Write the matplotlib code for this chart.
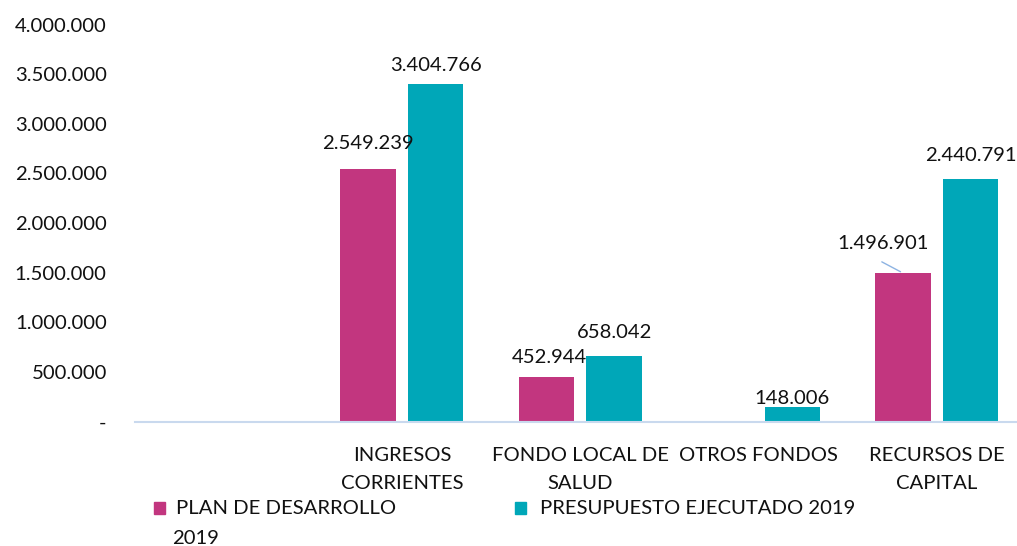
import numpy as np
import matplotlib.pyplot as plt
from matplotlib.patches import Rectangle
from matplotlib.ticker import FuncFormatter

categories = ["", "INGRESOS\nCORRIENTES", "FONDO LOCAL DE\nSALUD", "OTROS FONDOS", "RECURSOS DE\nCAPITAL"]
plan_2019 = [None, 2549239, 452944, None, 1496901]
ejecutado_2019 = [None, 3404766, 658042, 148006, 2440791]
series_names = ["PLAN DE DESARROLLO", "PRESUPUESTO EJECUTADO 2019"]

PINK = '#C2367F'
TEAL = '#00A7B8'
FONT = 'Lato'
FS = 14.6

plt.rcParams['font.family'] = [FONT, 'DejaVu Sans']

def fmt_miles(v, pos=None):
    if v == 0:
        return '-'
    return f'{int(round(v)):,}'.replace(',', '.')

fig = plt.figure(figsize=(10.17, 5.46), dpi=100)
W, H = 1017, 546
ax = fig.add_axes([134.5 / W, (H - 421.7) / H, 891.5 / W, 397.2 / H])

x = np.arange(len(categories))
bw = 0.31
off = 0.19

plan_vals = np.array([np.nan if v is None else v for v in plan_2019], dtype=float)
ejec_vals = np.array([np.nan if v is None else v for v in ejecutado_2019], dtype=float)

ax.bar(x - off, plan_vals, bw, color=PINK, zorder=2)
ax.bar(x + off, ejec_vals, bw, color=TEAL, zorder=2)

# data labels: pixel gap between bar top and label centre, nudged like the original
label_gap = {(0, 1): 25, (1, 1): 18, (0, 2): 19, (1, 2): 24, (1, 3): 9, (0, 4): 30, (1, 4): 24}
label_dx = {(0, 2): 3, (0, 4): -20}
for s, vals in enumerate([plan_vals, ejec_vals]):
    for i, v in enumerate(vals):
        if np.isnan(v):
            continue
        gap = label_gap.get((s, i), 24)
        dx = label_dx.get((s, i), 0)
        xpos = x[i] - off if s == 0 else x[i] + off
        ax.annotate(fmt_miles(v), (xpos, v), xytext=(dx * 0.72, gap * 0.72),
                    textcoords='offset points', ha='center', va='center',
                    fontsize=FS, color='#111111')

# leader line for RECURSOS DE CAPITAL plan label
ax.annotate('', xy=(x[4] - off, plan_vals[4]), xytext=(-17, 9), textcoords='offset points',
            arrowprops=dict(arrowstyle='-', color='#8DB3E2', lw=1))

ax.set_xlim(-0.5, 4.5)
ax.set_ylim(0, 4000000)
ax.set_yticks(np.arange(0, 4000001, 500000))
ax.yaxis.set_major_formatter(FuncFormatter(fmt_miles))
ax.set_xticks(x)
ax.set_xticklabels(categories, linespacing=1.8)
ax.tick_params(axis='both', length=0, labelsize=FS, colors='#111111')
ax.tick_params(axis='y', pad=20)
ax.tick_params(axis='x', pad=18)

for sp in ['top', 'right', 'left']:
    ax.spines[sp].set_visible(False)
ax.spines['bottom'].set_color('#C9D9EE')
ax.spines['bottom'].set_linewidth(1.5)

# legend drawn by hand to keep the wrapped first entry
fig.patches.append(Rectangle((154 / W, (H - 514) / H), 11 / W, 12 / H,
                             transform=fig.transFigure, color=PINK))
fig.text(176 / W, (H - 508) / H, series_names[0], ha='left', va='center', fontsize=FS, color='#111111')
fig.text(172 / W, (H - 538) / H, "2019", ha='left', va='center', fontsize=FS, color='#111111')
fig.patches.append(Rectangle((515 / W, (H - 514) / H), 11 / W, 12 / H,
                             transform=fig.transFigure, color=TEAL))
fig.text(540 / W, (H - 508) / H, series_names[1], ha='left', va='center', fontsize=FS, color='#111111')

fig.savefig('out.png', dpi=100)
